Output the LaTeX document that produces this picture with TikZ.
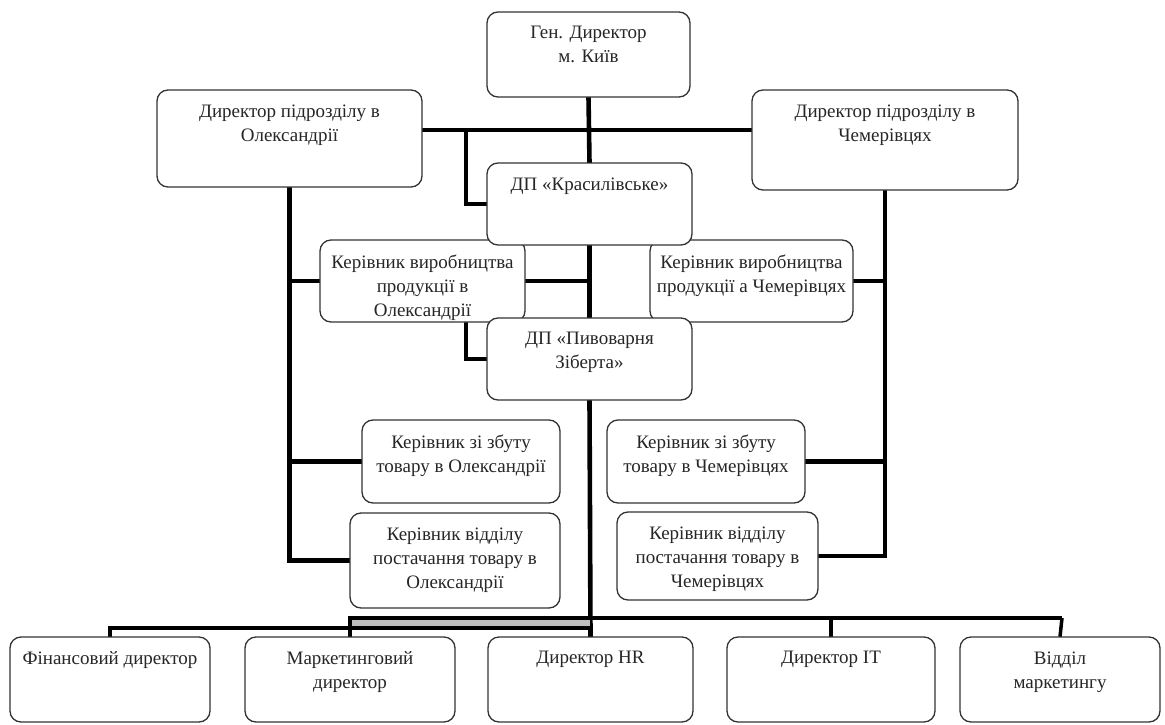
\documentclass[tikz,border=0pt]{standalone}
\usepackage{fontspec}
\setmainfont{Liberation Serif}
\usetikzlibrary{fit}
\tikzset{
  orgbox/.style={draw=black!80, line width=1.3pt, rounded corners=11pt, fill=white, inner sep=0pt},
  lbl/.style={anchor=north, align=center, inner sep=0pt, font=\fontsize{19}{24}\selectfont, text=black!85},
  conn/.style={line width=4.6pt, black},
  busline/.style={line width=3.5pt, black}
}
\newcommand{\orgnode}[6]{%
  \node[orgbox, fit={(#2,#3) (#4,#5)}] (#1) {};
  \node[lbl] (#1-t) at ([yshift=-15pt]#1.north) {#6};
}
\begin{document}
\begin{tikzpicture}[x=1pt,y=-1pt]
\useasboundingbox (0,0) rectangle (1165,725);
% junction coordinates
\coordinate (jtop) at (466,130);
\coordinate (busA) at (590,628);
\coordinate (busB) at (1062,618);
% box outlines named first so connectors can refer to them
\begin{scope}[opacity=0]
\node[fit={(487,12) (690,97)}, inner sep=0pt] (gen) {};
\node[fit={(157,90) (422,187)}, inner sep=0pt] (dirA) {};
\node[fit={(752,90) (1018,190)}, inner sep=0pt] (dirC) {};
\node[fit={(487,163) (692,245)}, inner sep=0pt] (kras) {};
\node[fit={(320,240) (525,322)}, inner sep=0pt] (prodA) {};
\node[fit={(650,240) (853,322)}, inner sep=0pt] (prodC) {};
\node[fit={(487,318) (692,400)}, inner sep=0pt] (piv) {};
\node[fit={(362,420) (560,503)}, inner sep=0pt] (salesA) {};
\node[fit={(607,420) (805,503)}, inner sep=0pt] (salesC) {};
\node[fit={(350,513) (560,608)}, inner sep=0pt] (supA) {};
\node[fit={(617,512) (818,600)}, inner sep=0pt] (supC) {};
\node[fit={(10,637) (210,722)}, inner sep=0pt] (fin) {};
\node[fit={(245,637) (455,722)}, inner sep=0pt] (mkt) {};
\node[fit={(488,637) (693,722)}, inner sep=0pt] (hr) {};
\node[fit={(727,637) (935,722)}, inner sep=0pt] (it) {};
\node[fit={(960,637) (1160,722)}, inner sep=0pt] (mar) {};
\end{scope}
% connectors
\draw[conn] (dirA.east |- jtop) -- (dirC.west |- jtop);
\draw[conn] (jtop) |- (kras.west);
\draw[conn] (gen.south) -- (kras.north);
\draw[conn] (kras.south) -- (piv.north);
\draw[conn] (prodA.east) -- (prodA.east -| piv.north);
\draw[conn] (prodA.south -| jtop) |- (piv.west);
\draw[conn] (dirA.south) |- (supA.west);
\draw[conn] (dirA.south |- prodA.west) -- (prodA.west);
\draw[conn] (dirA.south |- salesA.west) -- (salesA.west);
\draw[conn] (dirC.south) |- (supC.east);
\draw[conn] (dirC.south |- prodC.east) -- (prodC.east);
\draw[conn] (dirC.south |- salesC.east) -- (salesC.east);
\draw[conn] (piv.south) -- (hr.north);
\fill[black!25] (mkt.north |- busB) rectangle (busA);
\draw[busline] (fin.north) |- (busA);
\draw[busline] (mkt.north) |- (busB);
\draw[busline] (busB) -- (mar.north);
\draw[busline] (it.north) -- (it.north |- busB);
% boxes
\orgnode{gen}{487}{12}{690}{97}{Ген. Директор\\м. Київ}
\orgnode{dirA}{157}{90}{422}{187}{Директор підрозділу в\\Олександрії}
\orgnode{dirC}{752}{90}{1018}{190}{Директор підрозділу в\\Чемерівцях}
\orgnode{prodA}{320}{240}{525}{322}{Керівник виробництва\\продукції в\\Олександрії}
\orgnode{prodC}{650}{240}{853}{322}{Керівник виробництва\\продукції а Чемерівцях}
\orgnode{kras}{487}{163}{692}{245}{ДП «Красилівське»}
\orgnode{piv}{487}{318}{692}{400}{ДП «Пивоварня\\Зіберта»}
\orgnode{salesA}{362}{420}{560}{503}{Керівник зі збуту\\товару в Олександрії}
\orgnode{salesC}{607}{420}{805}{503}{Керівник зі збуту\\товару в Чемерівцях}
\orgnode{supA}{350}{513}{560}{608}{Керівник відділу\\постачання товару в\\Олександрії}
\orgnode{supC}{617}{512}{818}{600}{Керівник відділу\\постачання товару в\\Чемерівцях}
\orgnode{fin}{10}{637}{210}{722}{Фінансовий директор}
\orgnode{mkt}{245}{637}{455}{722}{Маркетинговий\\директор}
\orgnode{hr}{488}{637}{693}{722}{Директор HR}
\orgnode{it}{727}{637}{935}{722}{Директор IT}
\orgnode{mar}{960}{637}{1160}{722}{Відділ\\маркетингу}
\end{tikzpicture}
\end{document}
